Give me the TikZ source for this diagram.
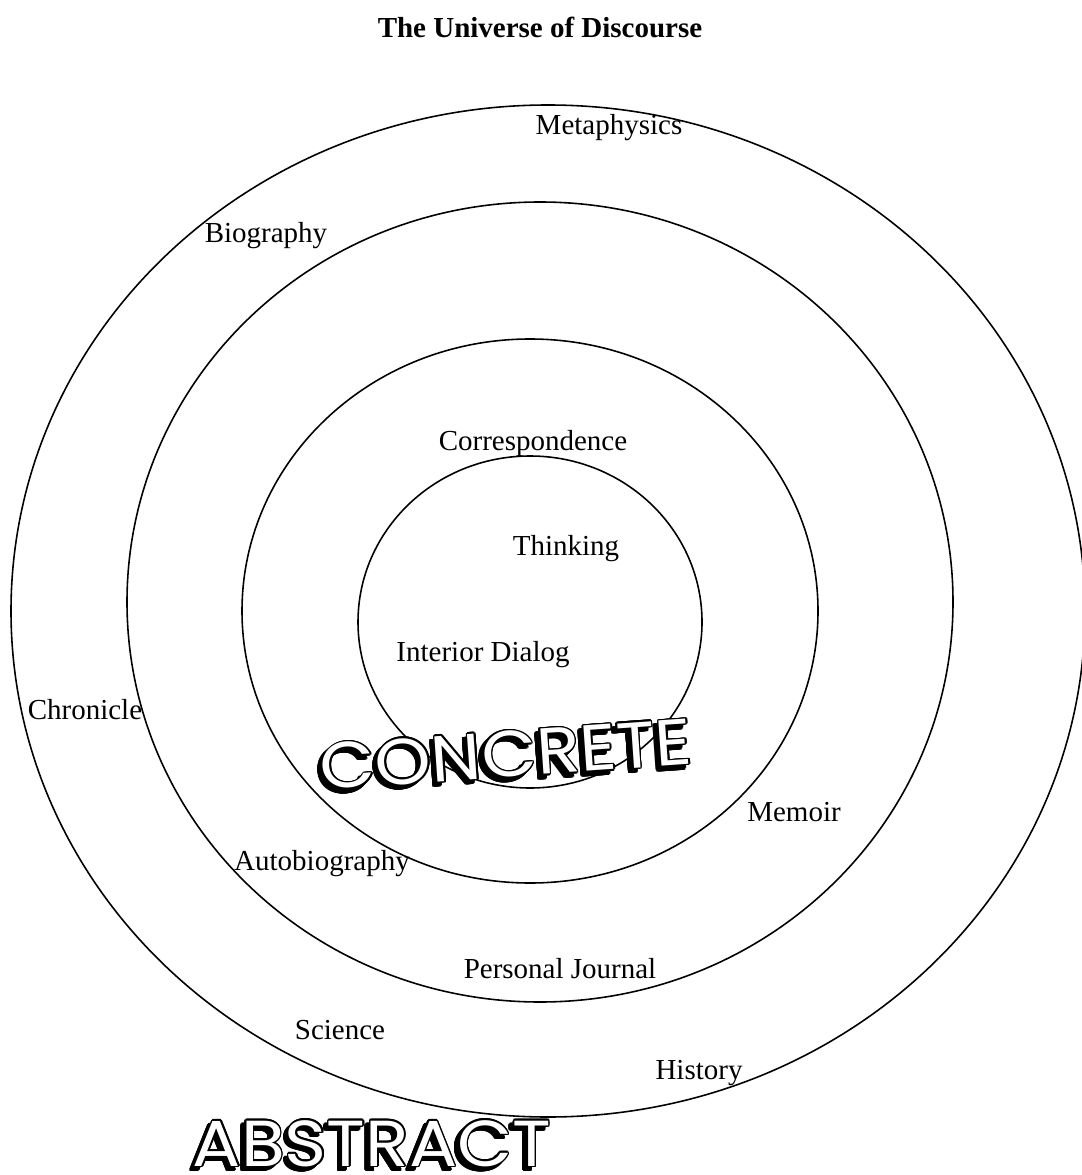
\documentclass[tikz,border=0pt]{standalone}
\usepackage{fontspec}
\setmainfont{Liberation Serif}
\newfontfamily\bannerfont{Poppins}
\usepackage{contour}
\contourlength{0.8pt}

\begin{document}
\begin{tikzpicture}[x=0.02cm, y=-0.02cm,
    ring/.style={line width=0.9pt},
    lbl/.style={font=\fontsize{16.5}{18}\selectfont, inner sep=0pt},
    banner/.style={font=\bannerfont\fontsize{37}{40}\selectfont, inner sep=0pt},
    bshade/.style={banner, shift={(-2.4pt,-2.4pt)}}]
\useasboundingbox (0,0) rectangle (1081,1175);
\node[font=\bfseries\fontsize{16.5}{18}\selectfont] (title) at (540,27) {The Universe of Discourse};
% the four rings, outer to inner
\foreach \cx/\cy/\rx/\ry in {548/611/537/506, 540/602/413/400, 530/611/288/272, 530/622/172/166}
  \draw[ring] (\cx,\cy) ellipse [x radius=\rx, y radius=\ry];
\node[lbl] (metaphysics) at (609,128) {Metaphysics};
\node[lbl] (biography) at (266,236) {Biography};
\node[lbl] (correspondence) at (533,444) {Correspondence};
\node[lbl] (thinking) at (566,549) {Thinking};
\node[lbl] (interior) at (483,655) {Interior Dialog};
\node[lbl] (chronicle) at (85,710) {Chronicle};
\node[lbl] (memoir) at (794,812) {Memoir};
\node[lbl] (autobio) at (322,864) {Autobiography};
\node[lbl] (journal) at (560,969) {Personal Journal};
\node[lbl] (science) at (340,1030) {Science};
\node[lbl] (history) at (699,1073) {History};
% shadowed banner words
\node[bshade, rotate=4] (concrete-sh) at (506,755) {\scalebox{1.1}[1]{\contour{black}{CONCRETE}}};
\node[banner, rotate=4] (concrete) at (506,755) {\scalebox{1.1}[1]{\contour{black}{\textcolor{white}{CONCRETE}}}};
\node[bshade] (abstract-sh) at (372,1144) {\scalebox{1.1}[1]{\contour{black}{ABSTRACT}}};
\node[banner] (abstract) at (372,1144) {\scalebox{1.1}[1]{\contour{black}{\textcolor{white}{ABSTRACT}}}};
\end{tikzpicture}
\end{document}
